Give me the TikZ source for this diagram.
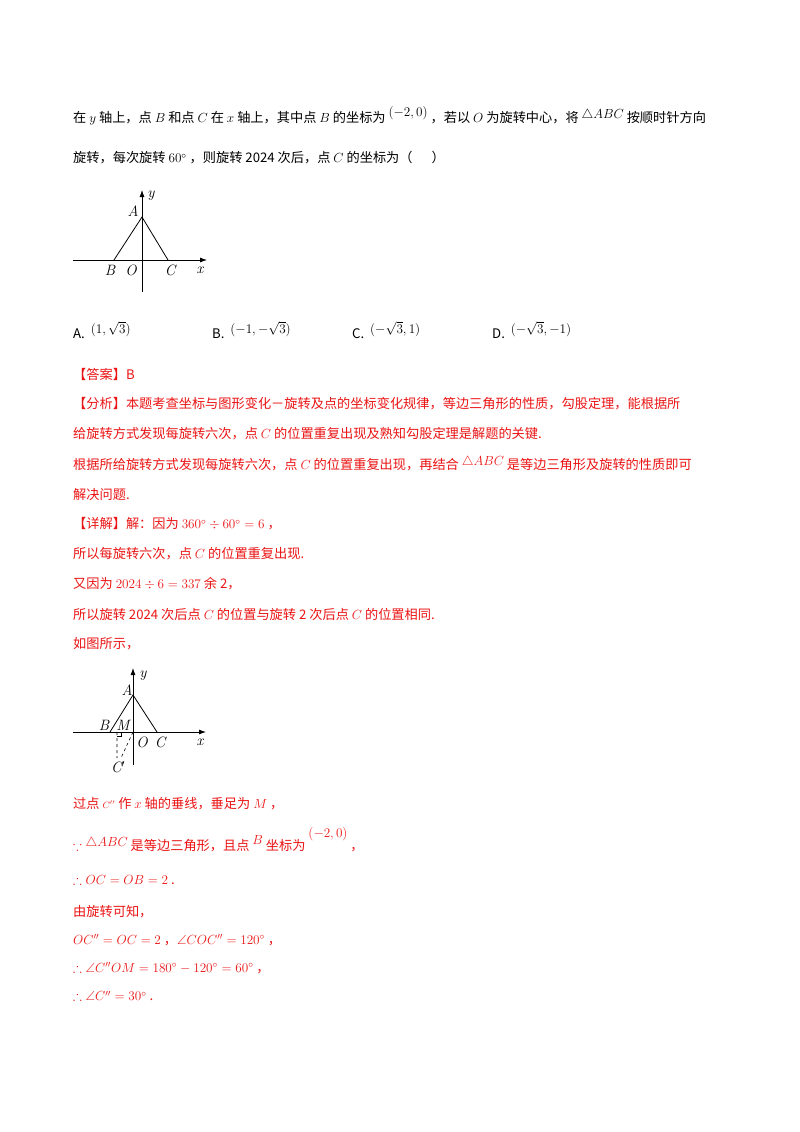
\RequirePackage{fix-cm}
\documentclass[tikz,border=0pt]{standalone}
\usepackage{amssymb}
\usepackage{fontspec}
\newfontfamily\cjk{Noto Sans CJK SC}
\usetikzlibrary{arrows.meta}
\definecolor{ans}{RGB}{235,20,20}
\begin{document}
\begin{tikzpicture}[x=1pt,y=-1pt,
 line/.style={anchor=west,inner sep=0pt,font=\cjk\fontsize{13.2}{15}\selectfont},
 rline/.style={line,text=ans},
 lab/.style={inner sep=0pt,font=\fontsize{15}{17}\selectfont\itshape},
 ax/.style={line width=0.8pt,-{Latex[length=7pt,width=5pt]}},
 seg/.style={line width=0.8pt}]
\useasboundingbox[fill=white] (0,0) rectangle (800,1132);
\node[line] (l1) at (73,116) {在 $y$ 轴上，点 $B$ 和点 $C$ 在 $x$ 轴上，其中点 $B$ 的坐标为 $\raisebox{6pt}{$(-2,0)$}$ ，若以 $O$ 为旋转中心，将 $\raisebox{4pt}{$\triangle ABC$}$ 按顺时针方向};
\node[line] (l2) at (73,158) {旋转，每次旋转 $60^\circ$ ，则旋转 2024 次后，点 $C$ 的坐标为（\quad\ \ ）};
% figure 1
\coordinate (A1) at (142,217); \coordinate (B1) at (114,260); \coordinate (C1) at (168,260);
\draw[ax] (142,292) -- (142,190);
\draw[ax] (73,260) -- (207,260);
\draw[seg] (B1) -- (A1) -- (C1);
\node[lab] (tA1) at (133,211) {A};
\node[lab] (ty1) at (151,196) {y};
\node[lab] (tB1) at (110,270) {B};
\node[lab] (tO1) at (131,270) {O};
\node[lab] (tC1) at (170,270) {C};
\node[lab] (tx1) at (200,270) {x};
% options
\node[line] (oA) at (73,330) {A.\ \ $\raisebox{5pt}{$(1,\sqrt3)$}$};
\node[line] (oB) at (212,330) {B.\ \ $\raisebox{5pt}{$(-1,-\sqrt3)$}$};
\node[line] (oC) at (352,330) {C.\ \ $\raisebox{5pt}{$(-\sqrt3,1)$}$};
\node[line] (oD) at (492,330) {D.\ \ $\raisebox{5pt}{$(-\sqrt3,-1)$}$};
% answer
\node[rline] (r1) at (73,374) {【答案】B};
\node[rline] (r2) at (73,404) {【分析】本题考查坐标与图形变化－旋转及点的坐标变化规律，等边三角形的性质，勾股定理，能根据所};
\node[rline] (r3) at (73,434) {给旋转方式发现每旋转六次，点 $C$ 的位置重复出现及熟知勾股定理是解题的关键.};
\node[rline] (r4) at (73,464) {根据所给旋转方式发现每旋转六次，点 $C$ 的位置重复出现，再结合 $\raisebox{4pt}{$\triangle ABC$}$ 是等边三角形及旋转的性质即可};
\node[rline] (r5) at (73,494) {解决问题.};
\node[rline] (r6) at (73,524) {【详解】解：因为 $360^\circ\div60^\circ=6$ ，};
\node[rline] (r7) at (73,554) {所以每旋转六次，点 $C$ 的位置重复出现.};
\node[rline] (r8) at (73,584) {又因为 $2024\div6=337$ 余 2，};
\node[rline] (r9) at (73,614) {所以旋转 2024 次后点 $C$ 的位置与旋转 2 次后点 $C$ 的位置相同.};
\node[rline] (r10) at (73,644) {如图所示，};
% figure 2
\coordinate (A2) at (133,695); \coordinate (B2) at (110,732); \coordinate (C2) at (157,732);
\coordinate (O2) at (133,732); \coordinate (M2) at (117,732); \coordinate (Cp) at (121,758);
\draw[ax] (133,765) -- (133,668);
\draw[ax] (73,732) -- (206,732);
\draw[seg] (B2) -- (A2) -- (C2);
\draw[dashed,line width=0.6pt] (M2) -- (117,758) (O2) -- (Cp);
\draw[line width=0.5pt] (117,736) -- (121,736) -- (121,732);
\node[lab] (tA2) at (127,690) {A};
\node[lab] (ty2) at (143,676) {y};
\node[lab] (tB2) at (104,725) {B};
\node[lab] (tM2) at (123,725) {M};
\node[lab] (tO2) at (142,742) {O};
\node[lab] (tC2) at (160,742) {C};
\node[lab] (tx2) at (200,742) {x};
\node[lab] (tCp) at (118,767) {C$'$};
\node[rline] (s1) at (73,804) {过点 $\scriptstyle C''$ 作 $x$ 轴的垂线，垂足为 $M$ ，};
\node[rline] (s2) at (73,840) {$\because\raisebox{4pt}{$\triangle ABC$}$ 是等边三角形，且点 $\raisebox{6pt}{$B$}$ 坐标为 $\raisebox{13pt}{$(-2,0)$}$ ，};
\node[rline] (s3) at (73,880) {$\therefore OC=OB=2$ .};
\node[rline] (s4) at (73,912) {由旋转可知，};
\node[rline] (s5) at (73,940) {$OC''=OC=2$ ，$\angle COC''=120^\circ$ ，};
\node[rline] (s6) at (73,968) {$\therefore\angle C''OM=180^\circ-120^\circ=60^\circ$ ，};
\node[rline] (s7) at (73,996) {$\therefore\angle C''=30^\circ$ .};
\end{tikzpicture}
\end{document}
